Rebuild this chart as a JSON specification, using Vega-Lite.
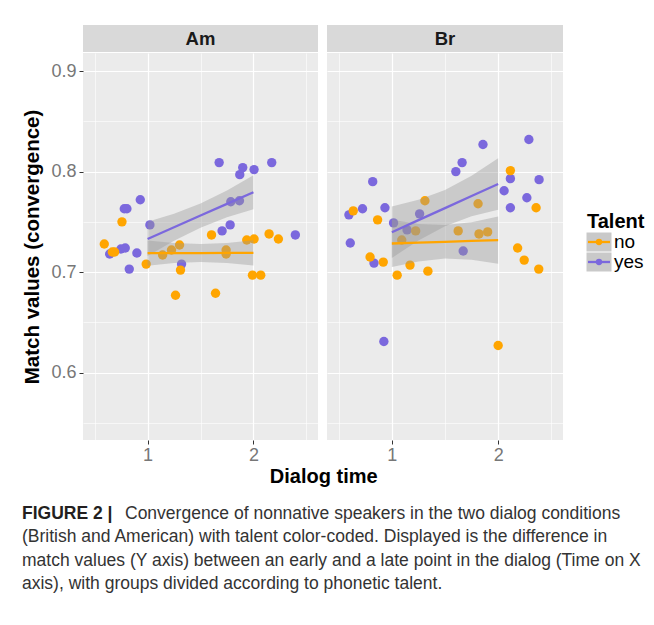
{
  "$schema": "https://vega.github.io/schema/vega-lite/v6.json",
  "background": "white",
  "padding": {"left": 22, "top": 25, "right": 5, "bottom": 5},
  "config": {
    "font": "Liberation Sans",
    "view": {"stroke": null}
  },
  "datasets": {
    "points": [
      {"panel": "Am", "talent": "yes", "time": 1.676, "match": 0.809},
      {"panel": "Am", "talent": "yes", "time": 1.899, "match": 0.804},
      {"panel": "Am", "talent": "yes", "time": 1.871, "match": 0.797},
      {"panel": "Am", "talent": "yes", "time": 2.006, "match": 0.802},
      {"panel": "Am", "talent": "yes", "time": 2.173, "match": 0.809},
      {"panel": "Am", "talent": "yes", "time": 0.931, "match": 0.772},
      {"panel": "Am", "talent": "yes", "time": 0.780, "match": 0.763},
      {"panel": "Am", "talent": "yes", "time": 0.805, "match": 0.763},
      {"panel": "Am", "talent": "yes", "time": 1.022, "match": 0.747},
      {"panel": "Am", "talent": "yes", "time": 1.786, "match": 0.770},
      {"panel": "Am", "talent": "yes", "time": 1.868, "match": 0.771},
      {"panel": "Am", "talent": "yes", "time": 1.780, "match": 0.747},
      {"panel": "Am", "talent": "yes", "time": 1.704, "match": 0.741},
      {"panel": "Am", "talent": "yes", "time": 2.396, "match": 0.737},
      {"panel": "Am", "talent": "yes", "time": 0.642, "match": 0.718},
      {"panel": "Am", "talent": "yes", "time": 0.748, "match": 0.723},
      {"panel": "Am", "talent": "yes", "time": 0.789, "match": 0.724},
      {"panel": "Am", "talent": "yes", "time": 0.899, "match": 0.719},
      {"panel": "Am", "talent": "yes", "time": 0.827, "match": 0.703},
      {"panel": "Am", "talent": "yes", "time": 1.321, "match": 0.708},
      {"panel": "Am", "talent": "no", "time": 0.758, "match": 0.750},
      {"panel": "Am", "talent": "no", "time": 0.591, "match": 0.728},
      {"panel": "Am", "talent": "no", "time": 0.667, "match": 0.720},
      {"panel": "Am", "talent": "no", "time": 0.689, "match": 0.720},
      {"panel": "Am", "talent": "no", "time": 0.987, "match": 0.708},
      {"panel": "Am", "talent": "no", "time": 1.142, "match": 0.717},
      {"panel": "Am", "talent": "no", "time": 1.226, "match": 0.722},
      {"panel": "Am", "talent": "no", "time": 1.302, "match": 0.727},
      {"panel": "Am", "talent": "no", "time": 1.311, "match": 0.702},
      {"panel": "Am", "talent": "no", "time": 1.264, "match": 0.677},
      {"panel": "Am", "talent": "no", "time": 1.604, "match": 0.737},
      {"panel": "Am", "talent": "no", "time": 1.742, "match": 0.722},
      {"panel": "Am", "talent": "no", "time": 1.742, "match": 0.718},
      {"panel": "Am", "talent": "no", "time": 1.642, "match": 0.679},
      {"panel": "Am", "talent": "no", "time": 1.937, "match": 0.732},
      {"panel": "Am", "talent": "no", "time": 2.006, "match": 0.733},
      {"panel": "Am", "talent": "no", "time": 2.148, "match": 0.738},
      {"panel": "Am", "talent": "no", "time": 2.236, "match": 0.733},
      {"panel": "Am", "talent": "no", "time": 1.991, "match": 0.697},
      {"panel": "Am", "talent": "no", "time": 2.069, "match": 0.697},
      {"panel": "Br", "talent": "yes", "time": 2.289, "match": 0.832},
      {"panel": "Br", "talent": "yes", "time": 1.857, "match": 0.827},
      {"panel": "Br", "talent": "yes", "time": 1.661, "match": 0.809},
      {"panel": "Br", "talent": "yes", "time": 1.602, "match": 0.800},
      {"panel": "Br", "talent": "yes", "time": 0.820, "match": 0.790},
      {"panel": "Br", "talent": "yes", "time": 2.115, "match": 0.793},
      {"panel": "Br", "talent": "yes", "time": 2.385, "match": 0.792},
      {"panel": "Br", "talent": "yes", "time": 2.056, "match": 0.781},
      {"panel": "Br", "talent": "yes", "time": 2.270, "match": 0.774},
      {"panel": "Br", "talent": "yes", "time": 2.115, "match": 0.764},
      {"panel": "Br", "talent": "yes", "time": 0.596, "match": 0.757},
      {"panel": "Br", "talent": "yes", "time": 0.724, "match": 0.763},
      {"panel": "Br", "talent": "yes", "time": 0.935, "match": 0.764},
      {"panel": "Br", "talent": "yes", "time": 1.261, "match": 0.758},
      {"panel": "Br", "talent": "yes", "time": 1.016, "match": 0.749},
      {"panel": "Br", "talent": "yes", "time": 1.143, "match": 0.742},
      {"panel": "Br", "talent": "yes", "time": 0.609, "match": 0.729},
      {"panel": "Br", "talent": "yes", "time": 0.832, "match": 0.709},
      {"panel": "Br", "talent": "yes", "time": 1.671, "match": 0.721},
      {"panel": "Br", "talent": "yes", "time": 0.925, "match": 0.631},
      {"panel": "Br", "talent": "no", "time": 2.115, "match": 0.801},
      {"panel": "Br", "talent": "no", "time": 0.637, "match": 0.761},
      {"panel": "Br", "talent": "no", "time": 0.866, "match": 0.752},
      {"panel": "Br", "talent": "no", "time": 1.311, "match": 0.771},
      {"panel": "Br", "talent": "no", "time": 1.811, "match": 0.768},
      {"panel": "Br", "talent": "no", "time": 2.357, "match": 0.764},
      {"panel": "Br", "talent": "no", "time": 1.224, "match": 0.741},
      {"panel": "Br", "talent": "no", "time": 1.624, "match": 0.741},
      {"panel": "Br", "talent": "no", "time": 1.820, "match": 0.738},
      {"panel": "Br", "talent": "no", "time": 1.901, "match": 0.740},
      {"panel": "Br", "talent": "no", "time": 1.093, "match": 0.732},
      {"panel": "Br", "talent": "no", "time": 0.795, "match": 0.715},
      {"panel": "Br", "talent": "no", "time": 0.919, "match": 0.710},
      {"panel": "Br", "talent": "no", "time": 1.171, "match": 0.707},
      {"panel": "Br", "talent": "no", "time": 1.050, "match": 0.697},
      {"panel": "Br", "talent": "no", "time": 1.339, "match": 0.701},
      {"panel": "Br", "talent": "no", "time": 2.183, "match": 0.724},
      {"panel": "Br", "talent": "no", "time": 2.245, "match": 0.712},
      {"panel": "Br", "talent": "no", "time": 2.382, "match": 0.703},
      {"panel": "Br", "talent": "no", "time": 2.000, "match": 0.627}
    ],
    "fits": [
      {"panel": "Am", "talent": "yes", "time": 1.0, "fit": 0.7330, "lo": 0.7160, "hi": 0.7500},
      {"panel": "Am", "talent": "yes", "time": 1.25, "fit": 0.7446, "lo": 0.7312, "hi": 0.7580},
      {"panel": "Am", "talent": "yes", "time": 1.5, "fit": 0.7563, "lo": 0.7442, "hi": 0.7683},
      {"panel": "Am", "talent": "yes", "time": 1.75, "fit": 0.7679, "lo": 0.7545, "hi": 0.7813},
      {"panel": "Am", "talent": "yes", "time": 2.0, "fit": 0.7795, "lo": 0.7625, "hi": 0.7965},
      {"panel": "Am", "talent": "no", "time": 1.0, "fit": 0.7189, "lo": 0.7064, "hi": 0.7314},
      {"panel": "Am", "talent": "no", "time": 1.25, "fit": 0.7190, "lo": 0.7091, "hi": 0.7289},
      {"panel": "Am", "talent": "no", "time": 1.5, "fit": 0.7190, "lo": 0.7102, "hi": 0.7279},
      {"panel": "Am", "talent": "no", "time": 1.75, "fit": 0.7191, "lo": 0.7092, "hi": 0.7290},
      {"panel": "Am", "talent": "no", "time": 2.0, "fit": 0.7192, "lo": 0.7067, "hi": 0.7317},
      {"panel": "Br", "talent": "yes", "time": 1.0, "fit": 0.7397, "lo": 0.7141, "hi": 0.7653},
      {"panel": "Br", "talent": "yes", "time": 1.25, "fit": 0.7517, "lo": 0.7315, "hi": 0.7719},
      {"panel": "Br", "talent": "yes", "time": 1.5, "fit": 0.7637, "lo": 0.7456, "hi": 0.7818},
      {"panel": "Br", "talent": "yes", "time": 1.75, "fit": 0.7757, "lo": 0.7555, "hi": 0.7959},
      {"panel": "Br", "talent": "yes", "time": 2.0, "fit": 0.7877, "lo": 0.7621, "hi": 0.8133},
      {"panel": "Br", "talent": "no", "time": 1.0, "fit": 0.7285, "lo": 0.7050, "hi": 0.7520},
      {"panel": "Br", "talent": "no", "time": 1.25, "fit": 0.7293, "lo": 0.7107, "hi": 0.7479},
      {"panel": "Br", "talent": "no", "time": 1.5, "fit": 0.7302, "lo": 0.7135, "hi": 0.7468},
      {"panel": "Br", "talent": "no", "time": 1.75, "fit": 0.7310, "lo": 0.7124, "hi": 0.7496},
      {"panel": "Br", "talent": "no", "time": 2.0, "fit": 0.7318, "lo": 0.7083, "hi": 0.7553}
    ],
    "caption": [
      {"line": 1, "bold": "FIGURE 2 |", "text": "Convergence of nonnative speakers in the two dialog conditions"},
      {"line": 2, "bold": "", "text": "(British and American) with talent color-coded. Displayed is the difference in"},
      {"line": 3, "bold": "", "text": "match values (Y axis) between an early and a late point in the dialog (Time on X"},
      {"line": 4, "bold": "", "text": "axis), with groups divided according to phonetic talent."}
    ]
  },
  "vconcat": [
    {
      "title": {"text": "Dialog time", "orient": "bottom", "anchor": "middle", "fontSize": 20, "fontWeight": "bold", "color": "#000000", "offset": 3, "dx": -10},
      "hconcat": [
        {
          "vconcat": [
            {
              "data": {"values": [{"panel": "Am"}]},
              "width": 235, "height": 27,
              "view": {"fill": "#D9D9D9", "stroke": null},
              "mark": {"type": "text", "fontSize": 18.5, "fontWeight": "bold", "color": "#1A1A1A"},
              "encoding": {"text": {"field": "panel"}}
            },
            {
              "width": 235, "height": 387,
              "view": {"fill": "#EBEBEB", "stroke": null},
              "resolve": {"axis": {"x": "independent", "y": "independent"}},
              "layer": [
                {
                  "data": {"name": "points"},
                  "transform": [{"filter": "datum.panel === 'Am'"}],
                  "mark": {"type": "circle", "size": 88, "opacity": 1},
                  "encoding": {
                    "x": {"field": "time", "type": "quantitative",
                      "scale": {"domain": [0.39, 2.61], "nice": false, "zero": false},
                      "axis": {"orient": "bottom", "values": [1, 2], "format": "d",
                        "gridColor": "#FFFFFF", "gridWidth": 1.2, "grid": true, "domain": false,
                        "tickColor": "#333333", "tickSize": 4, "tickWidth": 1,
                        "labelColor": "#777777", "labelFontSize": 18, "labelPadding": 2, "labelFlush": false,
                        "title": null}},
                    "y": {"field": "match", "type": "quantitative",
                      "scale": {"domain": [0.533, 0.918], "nice": false, "zero": false},
                      "axis": {"orient": "left", "values": [0.6, 0.7, 0.8, 0.9], "format": ".1f",
                        "gridColor": "#FFFFFF", "gridWidth": 1.2, "grid": true, "domain": false,
                        "tickColor": "#333333", "tickSize": 4, "tickWidth": 1,
                        "labelColor": "#777777", "labelFontSize": 18, "labelPadding": 3,
                        "title": "Match values (convergence)", "titleFontSize": 20.5, "titleFontWeight": "bold", "titleColor": "#000000",
                        "titlePadding": 8}},
                    "color": {"field": "talent", "type": "nominal", "scale": {"domain": ["no", "yes"], "range": ["#FFA500", "#7B68DD"]}, "legend": null}
                  }
                },
                {
                  "data": {"name": "fits"},
                  "transform": [{"filter": "datum.panel === 'Am'"}],
                  "mark": {"type": "area", "color": "#999999", "opacity": 0.4},
                  "encoding": {
                    "x": {"field": "time", "type": "quantitative", "scale": {"domain": [0.39, 2.61], "nice": false, "zero": false},
                      "axis": {"orient": "bottom", "values": [0.5, 1.5, 2.5], "grid": true, "gridColor": "#FFFFFF", "gridWidth": 0.6,
                        "ticks": false, "labels": false, "domain": false, "title": null}},
                    "y": {"field": "lo", "type": "quantitative", "scale": {"domain": [0.533, 0.918], "nice": false, "zero": false},
                      "axis": {"orient": "left", "values": [0.55, 0.65, 0.75, 0.85], "grid": true, "gridColor": "#FFFFFF", "gridWidth": 0.6,
                        "ticks": false, "labels": false, "domain": false, "title": null}},
                    "y2": {"field": "hi"},
                    "detail": {"field": "talent", "type": "nominal"}
                  }
                },
                {
                  "data": {"name": "fits"},
                  "transform": [{"filter": "datum.panel === 'Am'"}],
                  "mark": {"type": "line", "strokeWidth": 2.3},
                  "encoding": {
                    "x": {"field": "time", "type": "quantitative", "scale": {"domain": [0.39, 2.61], "nice": false, "zero": false}, "axis": null},
                    "y": {"field": "fit", "type": "quantitative", "scale": {"domain": [0.533, 0.918], "nice": false, "zero": false}, "axis": null},
                    "color": {"field": "talent", "type": "nominal", "scale": {"domain": ["no", "yes"], "range": ["#FFA500", "#7B68DD"]}, "legend": null}
                  }
                }
              ]
            }
          ],
          "spacing": 1,
          "bounds": "flush"
        },
        {
          "vconcat": [
            {
              "data": {"values": [{"panel": "Br"}]},
              "width": 236, "height": 27,
              "view": {"fill": "#D9D9D9", "stroke": null},
              "mark": {"type": "text", "fontSize": 18.5, "fontWeight": "bold", "color": "#1A1A1A"},
              "encoding": {"text": {"field": "panel"}}
            },
            {
              "width": 236, "height": 387,
              "view": {"fill": "#EBEBEB", "stroke": null},
              "resolve": {"axis": {"x": "independent", "y": "independent"}},
              "layer": [
                {
                  "data": {"name": "points"},
                  "transform": [{"filter": "datum.panel === 'Br'"}],
                  "mark": {"type": "circle", "size": 88, "opacity": 1},
                  "encoding": {
                    "x": {"field": "time", "type": "quantitative",
                      "scale": {"domain": [0.39, 2.61], "nice": false, "zero": false},
                      "axis": {"orient": "bottom", "values": [1, 2], "format": "d",
                        "gridColor": "#FFFFFF", "gridWidth": 1.2, "grid": true, "domain": false,
                        "tickColor": "#333333", "tickSize": 4, "tickWidth": 1,
                        "labelColor": "#777777", "labelFontSize": 18, "labelPadding": 2, "labelFlush": false,
                        "title": null}},
                    "y": {"field": "match", "type": "quantitative",
                      "scale": {"domain": [0.533, 0.918], "nice": false, "zero": false},
                      "axis": {"orient": "left", "values": [0.6, 0.7, 0.8, 0.9],
                        "gridColor": "#FFFFFF", "gridWidth": 1.2, "grid": true, "domain": false,
                        "ticks": false, "labels": false, "title": null}},
                    "color": {"field": "talent", "type": "nominal", "scale": {"domain": ["no", "yes"], "range": ["#FFA500", "#7B68DD"]}, "legend": null}
                  }
                },
                {
                  "data": {"name": "fits"},
                  "transform": [{"filter": "datum.panel === 'Br'"}],
                  "mark": {"type": "area", "color": "#999999", "opacity": 0.4},
                  "encoding": {
                    "x": {"field": "time", "type": "quantitative", "scale": {"domain": [0.39, 2.61], "nice": false, "zero": false},
                      "axis": {"orient": "bottom", "values": [0.5, 1.5, 2.5], "grid": true, "gridColor": "#FFFFFF", "gridWidth": 0.6,
                        "ticks": false, "labels": false, "domain": false, "title": null}},
                    "y": {"field": "lo", "type": "quantitative", "scale": {"domain": [0.533, 0.918], "nice": false, "zero": false},
                      "axis": {"orient": "left", "values": [0.55, 0.65, 0.75, 0.85], "grid": true, "gridColor": "#FFFFFF", "gridWidth": 0.6,
                        "ticks": false, "labels": false, "domain": false, "title": null}},
                    "y2": {"field": "hi"},
                    "detail": {"field": "talent", "type": "nominal"}
                  }
                },
                {
                  "data": {"name": "fits"},
                  "transform": [{"filter": "datum.panel === 'Br'"}],
                  "mark": {"type": "line", "strokeWidth": 2.3},
                  "encoding": {
                    "x": {"field": "time", "type": "quantitative", "scale": {"domain": [0.39, 2.61], "nice": false, "zero": false}, "axis": null},
                    "y": {"field": "fit", "type": "quantitative", "scale": {"domain": [0.533, 0.918], "nice": false, "zero": false}, "axis": null},
                    "color": {"field": "talent", "type": "nominal", "scale": {"domain": ["no", "yes"], "range": ["#FFA500", "#7B68DD"]}, "legend": null}
                  }
                }
              ]
            }
          ],
          "spacing": 1,
          "bounds": "flush"
        },
        {
          "width": 54, "height": 260,
          "view": {"stroke": null, "fill": null},
          "layer": [
            {
              "data": {"values": [{"talent": "no"}, {"talent": "yes"}]},
              "mark": {"type": "point", "shape": "M-1.25,-0.95H1.25V0.95H-1.25Z", "size": 400, "filled": true, "color": "#C9C9C9", "opacity": 1},
              "encoding": {"y": {"field": "talent", "type": "nominal", "scale": {"type": "point", "domain": ["Talent", "no", "yes"], "range": [197, 237], "padding": 0}, "axis": null}}
            },
            {
              "data": {"values": [{"talent": "no"}, {"talent": "yes"}]},
              "mark": {"type": "point", "shape": "M-1,0H1", "size": 484, "strokeWidth": 2.3, "filled": false, "opacity": 1},
              "encoding": {
                "y": {"field": "talent", "type": "nominal", "scale": {"type": "point", "domain": ["Talent", "no", "yes"], "range": [197, 237], "padding": 0}, "axis": null},
                "color": {"field": "talent", "type": "nominal", "scale": {"domain": ["no", "yes"], "range": ["#FFA500", "#7B68DD"]}, "legend": null}
              }
            },
            {
              "data": {"values": [{"talent": "no"}, {"talent": "yes"}]},
              "mark": {"type": "circle", "size": 40, "opacity": 1},
              "encoding": {
                "y": {"field": "talent", "type": "nominal", "scale": {"type": "point", "domain": ["Talent", "no", "yes"], "range": [197, 237], "padding": 0}, "axis": null},
                "color": {"field": "talent", "type": "nominal", "scale": {"domain": ["no", "yes"], "range": ["#FFA500", "#7B68DD"]}, "legend": null}
              }
            },
            {
              "data": {"values": [{"talent": "no"}, {"talent": "yes"}]},
              "mark": {"type": "text", "align": "left", "baseline": "middle", "dx": 15, "fontSize": 19, "color": "#000000"},
              "encoding": {
                "y": {"field": "talent", "type": "nominal", "scale": {"type": "point", "domain": ["Talent", "no", "yes"], "range": [197, 237], "padding": 0}, "axis": null},
                "text": {"field": "talent"}
              }
            },
            {
              "data": {"values": [{"talent": "Talent"}]},
              "mark": {"type": "text", "align": "left", "baseline": "middle", "dx": -12, "fontSize": 20, "fontWeight": "bold", "color": "#000000"},
              "encoding": {
                "y": {"field": "talent", "type": "nominal", "scale": {"type": "point", "domain": ["Talent", "no", "yes"], "range": [197, 237], "padding": 0}, "axis": null},
                "text": {"field": "talent"}
              }
            }
          ]
        }
      ],
      "spacing": 9
    },
    {
      "data": {"name": "caption"},
      "width": 560, "height": 94,
      "view": {"stroke": null, "fill": null},
      "encoding": {"y": {"field": "line", "type": "ordinal", "scale": {"type": "point", "padding": 0.5}, "axis": null}},
      "layer": [
        {"mark": {"type": "text", "align": "left", "baseline": "middle", "x": -61, "fontSize": 17.5, "fontWeight": "bold", "color": "#231F20"},
         "encoding": {"text": {"field": "bold"}}},
        {"transform": [{"filter": "datum.line == 1"}],
         "mark": {"type": "text", "align": "left", "baseline": "middle", "x": -61, "dx": 103, "fontSize": 17.5, "color": "#333333"},
         "encoding": {"text": {"field": "text"}}},
        {"transform": [{"filter": "datum.line > 1"}],
         "mark": {"type": "text", "align": "left", "baseline": "middle", "x": -61, "fontSize": 17.5, "color": "#333333"},
         "encoding": {"text": {"field": "text"}}}
      ]
    }
  ],
  "spacing": 15
}
